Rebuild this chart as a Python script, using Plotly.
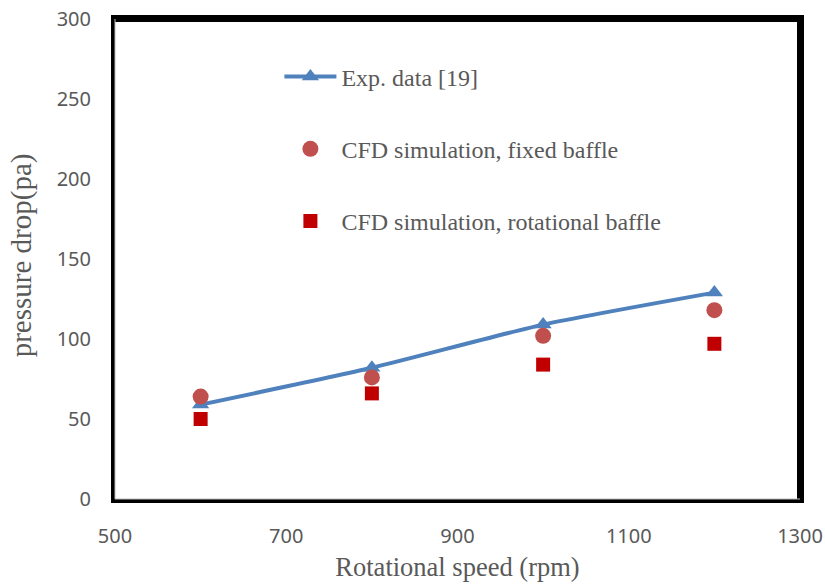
import plotly.graph_objects as go

speed = [600, 800, 1000, 1200]
exp_data = [59, 82, 109, 129]
cfd_fixed = [64, 76, 102, 118]
cfd_rot = [50, 66, 84, 97]

x_ticks = [500, 700, 900, 1100, 1300]
y_ticks = [0, 50, 100, 150, 200, 250, 300]

fig = go.Figure()
fig.add_trace(go.Scatter(
    x=speed, y=exp_data, mode="lines+markers", name="Exp. data [19]",
    line=dict(color="#4F81BD", width=4, shape="spline", smoothing=0.6),
    marker=dict(symbol="triangle-up", size=15, color="#4F81BD"),
    legendgroup="a"))
fig.add_trace(go.Scatter(
    x=speed, y=cfd_fixed, mode="markers", name="CFD simulation, fixed baffle",
    marker=dict(symbol="circle", size=16, color="#C0504D"),
    legendgroup="b"))
fig.add_trace(go.Scatter(
    x=speed, y=cfd_rot, mode="markers", name="CFD simulation, rotational baffle",
    marker=dict(symbol="square", size=14, color="#C00000"),
    legendgroup="c"))

axis_common = dict(
    showgrid=False, zeroline=False, showline=True, linecolor="black",
    linewidth=4, mirror=True, ticks="", automargin=False,
    tickfont=dict(family="Noto Sans", size=20, color="#595959"),
)

fig.update_layout(
    width=825, height=585,
    margin=dict(l=115, r=25, t=19, b=86),
    paper_bgcolor="white", plot_bgcolor="white",
    xaxis=dict(range=[500, 1300], tickvals=x_ticks, ticklabelstandoff=16,
               title=dict(text="Rotational speed (rpm)", standoff=10,
                          font=dict(family="Liberation Serif", size=26.5, color="#595959")),
               **axis_common),
    yaxis=dict(range=[0, 300], tickvals=y_ticks, ticklabelstandoff=16,
               **axis_common),
    legend=dict(x=0.24, y=0.926, xanchor="left", yanchor="top",
                bgcolor="rgba(0,0,0,0)", tracegroupgap=38, itemwidth=52,
                font=dict(family="Liberation Serif", size=24, color="#595959")),
    showlegend=True,
    annotations=[dict(text="pressure drop(pa)", textangle=-90, showarrow=False,
                      xref="paper", yref="paper", x=-0.137, y=0.508,
                      xanchor="center", yanchor="middle",
                      font=dict(family="Liberation Serif", size=29, color="#595959"))],
)

# thicker top/right frame and inner gray lines on left/bottom
fig.add_shape(type="line", xref="x domain", yref="y domain", x0=0, x1=1, y0=1, y1=1,
              line=dict(color="black", width=6))
fig.add_shape(type="line", xref="x domain", yref="y domain", x0=1, x1=1, y0=0, y1=1,
              line=dict(color="black", width=6))
fig.add_shape(type="line", xref="x domain", yref="y domain", x0=0, x1=0, y0=0, y1=1,
              line=dict(color="#BBBBBB", width=1))
fig.add_shape(type="line", xref="x domain", yref="y domain", x0=0, x1=1, y0=0, y1=0,
              line=dict(color="#BBBBBB", width=1))

fig.write_html("out.html")
